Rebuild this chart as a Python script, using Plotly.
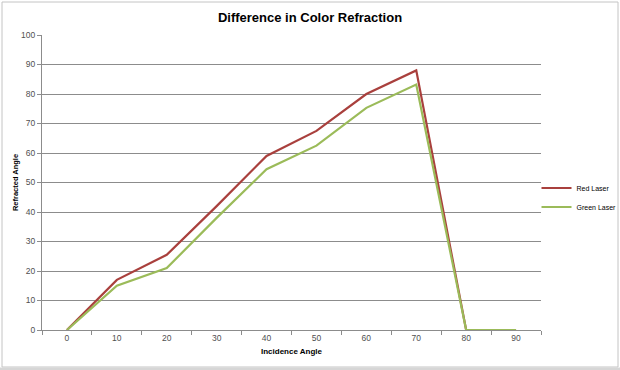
import plotly.graph_objects as go

categories = ["0", "10", "20", "30", "40", "50", "60", "70", "80", "90"]
red_laser = [0, 17, 25.5, 42, 59, 67.5, 80, 88, 0, 0]
green_laser = [0, 15, 21, 38, 54.5, 62.5, 75.3, 83.2, 0, 0]

FONT = "Liberation Sans, Arial, sans-serif"
GRID = "#8C8C8C"
W, H = 620, 370
L, R, T, B = 42, 79, 35, 40
PW, PH = W - L - R, H - T - B


def px(x):
    return (x - L) / PW


def py(y):
    return (H - B - y) / PH


fig = go.Figure()
fig.add_trace(go.Scatter(x=categories, y=red_laser, mode="lines", name="Red Laser",
                         line=dict(color="#A9403D", width=2.2)))
fig.add_trace(go.Scatter(x=categories, y=green_laser, mode="lines", name="Green Laser",
                         line=dict(color="#9BBB59", width=2.2)))

fig.update_layout(
    width=W, height=H,
    margin=dict(l=L, r=R, t=T, b=B, autoexpand=False),
    paper_bgcolor="white", plot_bgcolor="white",
    font=dict(family=FONT, size=9, color="#404040"),
    title=dict(text="<b>Difference in Color Refraction</b>", x=0.5, xanchor="center",
               y=1 - 17 / H, yanchor="middle",
               font=dict(family=FONT, size=13, color="#000000")),
    showlegend=True,
    legend=dict(x=px(536.5), xanchor="left", y=py(197.5), yanchor="middle",
                font=dict(family=FONT, size=7, color="#000000"),
                bgcolor="rgba(0,0,0,0)", itemwidth=30, tracegroupgap=0),
    shapes=[
        dict(type="rect", xref="paper", yref="paper",
             x0=px(2), x1=px(618), y0=py(367), y1=py(2),
             line=dict(color="#C4C4C4", width=1), fillcolor="rgba(0,0,0,0)", layer="below"),
        dict(type="rect", xref="paper", yref="paper",
             x0=px(0), x1=px(620), y0=py(371), y1=py(367.5),
             line=dict(width=0), fillcolor="#D6D6D6", layer="below"),
    ],
)

fig.update_xaxes(type="category", range=[-0.5, 9.5], tickson="boundaries", ticks="outside", ticklen=4,
                 tickcolor=GRID, showline=True, linecolor=GRID, linewidth=1,
                 showgrid=False, zeroline=False, automargin=False,
                 tickfont=dict(family=FONT, size=8.5, color="#505050"),
                 title=dict(text="<b>Incidence Angle</b>", standoff=6,
                            font=dict(family=FONT, size=8, color="#000000")))
fig.update_yaxes(range=[0, 100], dtick=10, ticks="outside", ticklen=4, tickcolor=GRID,
                 showline=True, linecolor=GRID, linewidth=1,
                 showgrid=True, gridcolor=GRID, gridwidth=1, zeroline=False, automargin=False,
                 tickfont=dict(family=FONT, size=8.5, color="#505050"),
                 title=dict(text="<b>Refracted Angle</b>", standoff=1,
                            font=dict(family=FONT, size=7.5, color="#000000")))

fig.write_html("out.html", config={"displayModeBar": False},
               post_script="document.body.style.margin='0';")
